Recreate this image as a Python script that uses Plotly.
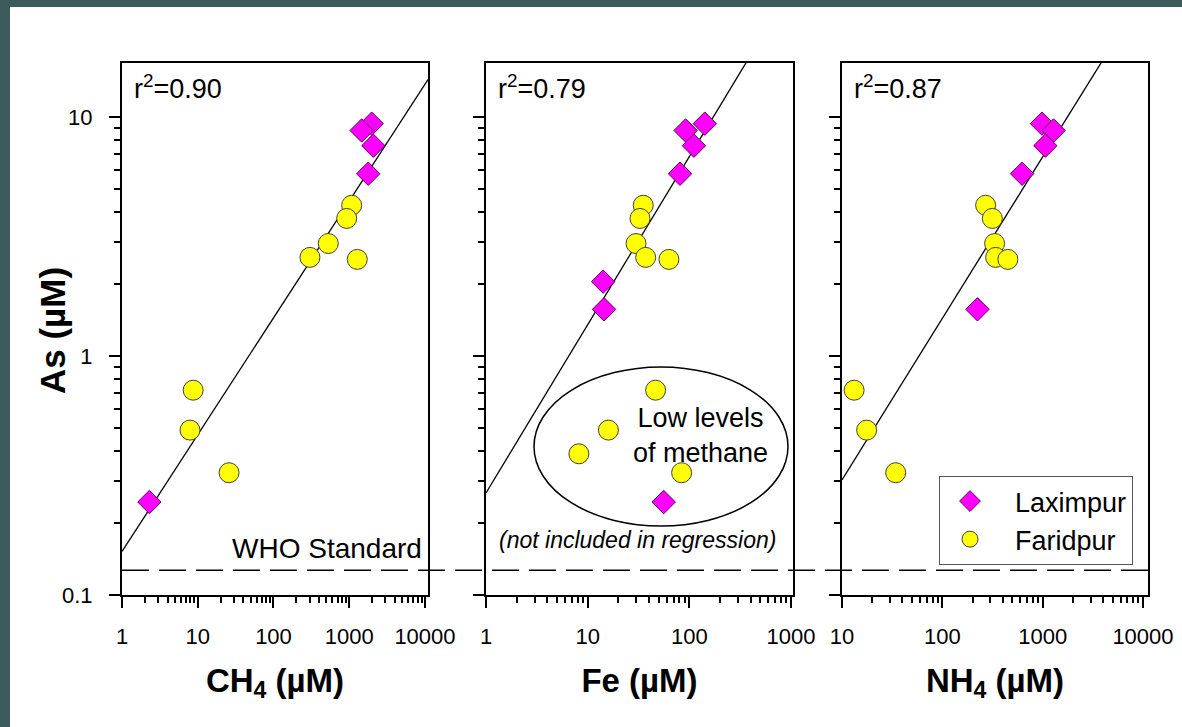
import numpy as np
import plotly.graph_objects as go

# ---------------- data ----------------
# As concentrations (µM) of each sample, shared by the three panels
lax_as = [9.4, 8.8, 7.6, 5.8, 2.05, 1.57, 0.245]
far_as = [4.28, 3.77, 2.96, 2.59, 2.54, 0.72, 0.49, 0.39, 0.325]

# x-variables (µM); None = not measured / not shown
lax_ch4 = [1980, 1460, 2080, 1780, None, None, 2.3]
far_ch4 = [1077, 925, 529, 303, 1277, 8.7, 7.9, None, 25.9]

lax_fe = [142, 92, 111, 81, 14.2, 14.5, 56]
far_fe = [35.2, 32.7, 29.9, 37.2, 63, 46.6, 16, 8.2, 84]

lax_nh4 = [985, 1285, 1063, 624, None, 224, None]
far_nh4 = [270, 315, 332, 340, 450, 13.2, 17.6, None, 34.3]

# log-log regression lines: log10(As) = intercept + slope * log10(x)
fit_intercepts = [-0.818, -0.573, -1.194]
fit_slopes = [0.489, 0.704, 0.676]
r2_labels = ["0.90", "0.79", "0.87"]

who_standard = 0.127  # µM

x_titles = ["CH<sub>4</sub> (µM)", "Fe (µM)", "NH<sub>4</sub> (µM)"]
y_title = "As (µM)"
x_tickvals = [[1, 10, 100, 1000, 10000], [1, 10, 100, 1000], [10, 100, 1000, 10000]]
x_ticktext = [["1", "10", "100", "1000", "10000"], ["1", "10", "100", "1000"],
              ["10", "100", "1000", "10000"]]
x_ranges = [[0, 4.04], [0, 3.02], [1, 4.05]]  # log10 units
y_tickvals = [0.1, 1, 10]
y_ticktext = ["0.1", "1", "10"]
y_range = [-1, 1.227]

# ---------------- figure ----------------
FONT = "Liberation Sans, Arial, sans-serif"
W, H = 1182, 727
ML, MR, MT, MB = 122, 34, 63, 132
PW, PH = W - ML - MR, H - MT - MB
domains = [[0, 306 / PW], [364 / PW, 671 / PW], [720 / PW, 1.0]]

fig = go.Figure()

panels = [(lax_ch4, far_ch4), (lax_fe, far_fe), (lax_nh4, far_nh4)]
for i, (lx, fx) in enumerate(panels):
    xa = "x" if i == 0 else f"x{i + 1}"
    ya = "y" if i == 0 else f"y{i + 1}"
    # regression line
    xs = np.logspace(x_ranges[i][0], x_ranges[i][1], 50)
    ys = 10 ** (fit_intercepts[i] + fit_slopes[i] * np.log10(xs))
    fig.add_trace(go.Scatter(x=xs, y=ys, mode="lines", xaxis=xa, yaxis=ya,
                             line=dict(color="black", width=1.3),
                             showlegend=False, hoverinfo="skip"))
    fig.add_trace(go.Scatter(x=fx, y=far_as, mode="markers", xaxis=xa, yaxis=ya,
                             name="\u00a0\u00a0Faridpur", legendrank=2,
                             marker=dict(symbol="circle", size=20, color="#FFFF00",
                                         line=dict(color="#404040", width=1)),
                             showlegend=(i == 0)))
    fig.add_trace(go.Scatter(x=lx, y=lax_as, mode="markers", xaxis=xa, yaxis=ya,
                             name="\u00a0\u00a0Laximpur", legendrank=1,
                             marker=dict(symbol="diamond", size=18, color="#FF00FF",
                                         line=dict(color="#600060", width=1)),
                             showlegend=(i == 0)))

axis_common = dict(
    type="log", showline=True, linewidth=2, linecolor="black", mirror=True,
    ticks="outside", ticklen=11, tickwidth=2, tickcolor="black",
    showgrid=False, zeroline=False,
    tickfont=dict(family=FONT, size=22, color="black"),
    minor=dict(dtick="D1", ticks="outside", ticklen=6, tickwidth=1.5,
               tickcolor="black", showgrid=False),
)

layout_axes = {}
for i in range(3):
    xk = "xaxis" if i == 0 else f"xaxis{i + 1}"
    yk = "yaxis" if i == 0 else f"yaxis{i + 1}"
    ya = "y" if i == 0 else f"y{i + 1}"
    layout_axes[xk] = dict(axis_common, domain=domains[i], range=x_ranges[i],
                           anchor=ya, tickmode="array", tickvals=x_tickvals[i],
                           ticktext=x_ticktext[i], ticklabelstandoff=10,
                           title=dict(text=x_titles[i], standoff=20,
                                      font=dict(family=FONT, size=33, weight="bold",
                                                color="black")))
    layout_axes[yk] = dict(axis_common, domain=[0, 1], range=y_range,
                           anchor="x" if i == 0 else f"x{i + 1}",
                           tickmode="array", tickvals=y_tickvals, ticktext=y_ticktext,
                           showticklabels=(i == 0), ticklabelstandoff=12)

annotations = []
# y-axis title (placed as rotated text to match the reference position)
annotations.append(dict(text=f"<b>{y_title}</b>", xref="paper", yref="paper",
                        x=(52 - ML) / PW, y=(595 - 331) / PH, textangle=-90,
                        xanchor="center", yanchor="middle", showarrow=False,
                        font=dict(family=FONT, size=35, color="black")))
for i in range(3):
    xd = "x domain" if i == 0 else f"x{i + 1} domain"
    yd = "y domain" if i == 0 else f"y{i + 1} domain"
    annotations.append(dict(text=f"r<sup>2</sup>={r2_labels[i]}", xref=xd, yref=yd,
                            x=0.034, y=0.955, xanchor="left", yanchor="middle",
                            showarrow=False, font=dict(family=FONT, size=27, color="black")))
annotations.append(dict(text="WHO Standard", xref="x domain", yref="y domain",
                        x=0.986, y=0.088, xanchor="right", yanchor="middle",
                        showarrow=False, font=dict(family=FONT, size=28, color="black")))
annotations.append(dict(text="Low levels<br>of methane", xref="x2 domain", yref="y2 domain",
                        x=0.70, y=0.299, xanchor="center", yanchor="middle", align="center",
                        showarrow=False, font=dict(family=FONT, size=27, color="black")))
annotations.append(dict(text="<i>(not included in regression)</i>", xref="x2 domain",
                        yref="y2 domain", x=0.495, y=0.103, xanchor="center",
                        yanchor="middle", showarrow=False,
                        font=dict(family=FONT, size=23, color="black")))

shapes = [
    # white slide area over the dark teal frame
    dict(type="rect", xref="paper", yref="paper", layer="below",
         x0=(10 - ML) / PW, x1=(W - ML + 5) / PW, y0=-(MB + 5) / PH, y1=(PH + MT - 7) / PH,
         fillcolor="white", line=dict(width=0)),
    # WHO standard dashed line across all panels
    dict(type="line", xref="paper", yref="y", x0=0, x1=1, y0=who_standard, y1=who_standard,
         line=dict(color="black", width=1.5, dash="27px,10px")),
    # ellipse around low-methane samples
    dict(type="circle", xref="paper", yref="paper",
         x0=(534 - ML) / PW, x1=(788 - ML) / PW, y0=(595 - 526) / PH, y1=(595 - 367) / PH,
         line=dict(color="black", width=1.5)),
]

fig.update_layout(
    width=W, height=H, margin=dict(l=ML, r=MR, t=MT, b=MB, autoexpand=False),
    paper_bgcolor="#3c5b5d", plot_bgcolor="white",
    font=dict(family=FONT, color="black"),
    showlegend=True,
    legend=dict(x=(939 - ML) / PW, y=(595 - 476) / PH, xanchor="left", yanchor="top",
                bgcolor="white", bordercolor="#555555", borderwidth=1,
                font=dict(family=FONT, size=27, color="black"), itemwidth=50,
                tracegroupgap=0),
    annotations=annotations, shapes=shapes,
    **layout_axes,
)

fig.write_html("out.html")
